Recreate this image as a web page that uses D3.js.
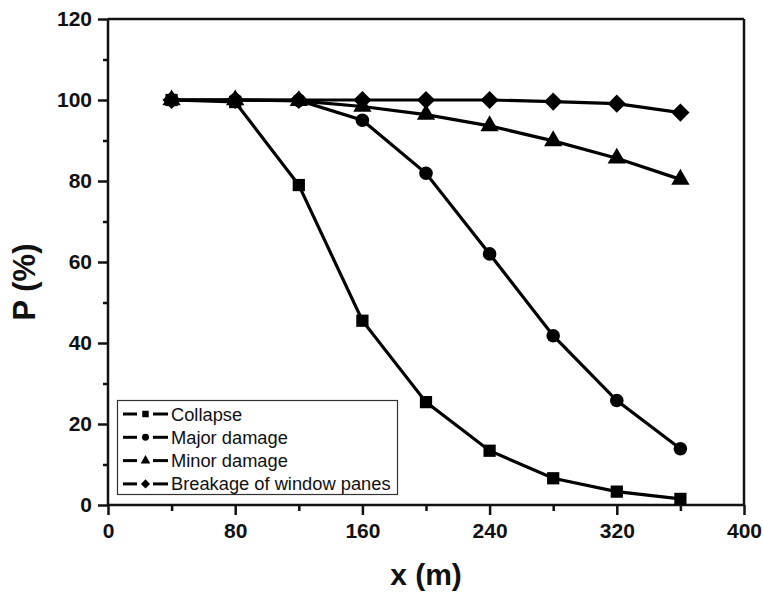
<!DOCTYPE html>
<html><head><meta charset="utf-8">
<script src="https://cdn.jsdelivr.net/npm/d3@7"></script>
<style>body{margin:0;background:#fff}svg{display:block}</style>
</head><body>
<svg id="c" width="763" height="596"></svg>
<script>
const xValues = [40, 80, 120, 160, 200, 240, 280, 320, 360];
const collapse = [100, 99.5, 79.0, 45.5, 25.4, 13.4, 6.6, 3.3, 1.5];
const majorDamage = [100, 100, 99.9, 95.0, 81.9, 62.0, 41.8, 25.8, 13.9];
const minorDamage = [100, 100, 99.8, 98.4, 96.4, 93.6, 89.9, 85.6, 80.4];
const breakage = [100, 100, 100, 100, 100, 100, 99.6, 99.1, 96.9];
const seriesNames = ["Collapse", "Major damage", "Minor damage", "Breakage of window panes"];
const seriesShapes = ["square", "circle", "triangle", "diamond"];
const xTicks = [0, 80, 160, 240, 320, 400];
const yTicks = [0, 20, 40, 60, 80, 100, 120];
const xLabel = "x (m)";
const yLabel = "P (%)";

const svg = d3.select("#c");
const L = 108, R = 744, T = 19, B = 505;
const x = d3.scaleLinear().domain([0, 400]).range([L, R]);
const y = d3.scaleLinear().domain([0, 120]).range([B, T]);
const font = "'Liberation Sans', Arial, sans-serif";

const symType = {square: d3.symbolSquare, circle: d3.symbolCircle, triangle: d3.symbolTriangle, diamond: d3.symbolSquare};
const symSize = {square: 150, circle: 145, triangle: 145, diamond: 165};
const symRot = {square: 0, circle: 0, triangle: 0, diamond: 45};
function sym(shape, size) {
  return d3.symbol().type(symType[shape]).size(size)();
}

// frame top/right
svg.append("line").attr("x1", L).attr("x2", R).attr("y1", T).attr("y2", T).attr("stroke", "#111").attr("stroke-width", 2.5);
svg.append("line").attr("x1", R).attr("x2", R).attr("y1", T).attr("y2", B).attr("stroke", "#111").attr("stroke-width", 2.5);

// axes
const xAxis = svg.append("g").attr("transform", `translate(0,${B})`)
  .call(d3.axisBottom(x).tickValues(xTicks).tickFormat(d3.format("d")).tickSize(10).tickPadding(8));
const xMinor = svg.append("g").attr("transform", `translate(0,${B})`)
  .call(d3.axisBottom(x).tickValues(d3.range(40, 400, 80)).tickFormat("").tickSize(6));
const yAxis = svg.append("g").attr("transform", `translate(${L},0)`)
  .call(d3.axisLeft(y).tickValues(yTicks).tickFormat(d3.format("d")).tickSize(10).tickPadding(6));
const yMinor = svg.append("g").attr("transform", `translate(${L},0)`)
  .call(d3.axisLeft(y).tickValues(d3.range(10, 120, 20)).tickFormat("").tickSize(5));
[xAxis, xMinor, yAxis, yMinor].forEach(g => {
  g.select(".domain").attr("stroke", "#111").attr("stroke-width", 2.5);
  g.selectAll(".tick line").attr("stroke", "#111").attr("stroke-width", 2.5);
  g.selectAll("text").attr("font-family", font).attr("font-weight", "bold").attr("font-size", 21).attr("fill", "#111");
});
xAxis.select(".domain").attr("d", `M${L},0H${R}`);
xMinor.select(".domain").remove();
yAxis.select(".domain").attr("d", `M0,${B}V${T}`);
yMinor.select(".domain").remove();

// axis titles
svg.append("text").attr("x", (L + R) / 2).attr("y", 585).attr("text-anchor", "middle")
  .attr("font-family", font).attr("font-weight", "bold").attr("font-size", 30).attr("fill", "#111").text(xLabel);
svg.append("text").attr("transform", `translate(35,282) rotate(-90)`).attr("text-anchor", "middle")
  .attr("font-family", font).attr("font-weight", "bold").attr("font-size", 31).attr("fill", "#111").text(yLabel);

// series
const allSeries = [collapse, majorDamage, minorDamage, breakage];
const line = d3.line().x((d, i) => x(xValues[i])).y(d => y(d));
allSeries.forEach((vals, k) => {
  const g = svg.append("g");
  const shape = seriesShapes[k];
  g.append("path").datum(vals).attr("d", line).attr("fill", "none").attr("stroke", "#000").attr("stroke-width", 3.2);
  g.selectAll("path.m").data(vals).enter().append("path").attr("class", "m")
    .attr("transform", (d, i) => `translate(${x(xValues[i])},${y(d)}) rotate(${symRot[shape]})`)
    .attr("d", sym(shape, symSize[shape])).attr("fill", "#000");
});

// legend
const lg = svg.append("g");
lg.append("rect").attr("x", 117.5).attr("y", 400.5).attr("width", 280).attr("height", 94)
  .attr("fill", "#fff").attr("stroke", "#333").attr("stroke-width", 1.2);
const legSize = {square: 42, circle: 38, triangle: 40, diamond: 42};
seriesNames.forEach((name, k) => {
  const cy = 414 + k * 23.3;
  const shape = seriesShapes[k];
  lg.append("line").attr("x1", 123).attr("x2", 137).attr("y1", cy).attr("y2", cy).attr("stroke", "#000").attr("stroke-width", 3);
  lg.append("line").attr("x1", 153).attr("x2", 168).attr("y1", cy).attr("y2", cy).attr("stroke", "#000").attr("stroke-width", 3);
  lg.append("path").attr("transform", `translate(145.5,${cy}) rotate(${symRot[shape]})`).attr("d", sym(shape, legSize[shape])).attr("fill", "#000");
  lg.append("text").attr("x", 171).attr("y", cy + 6.5).attr("font-family", font).attr("font-size", 18.3).attr("fill", "#111").text(name);
});
</script>
</body></html>
